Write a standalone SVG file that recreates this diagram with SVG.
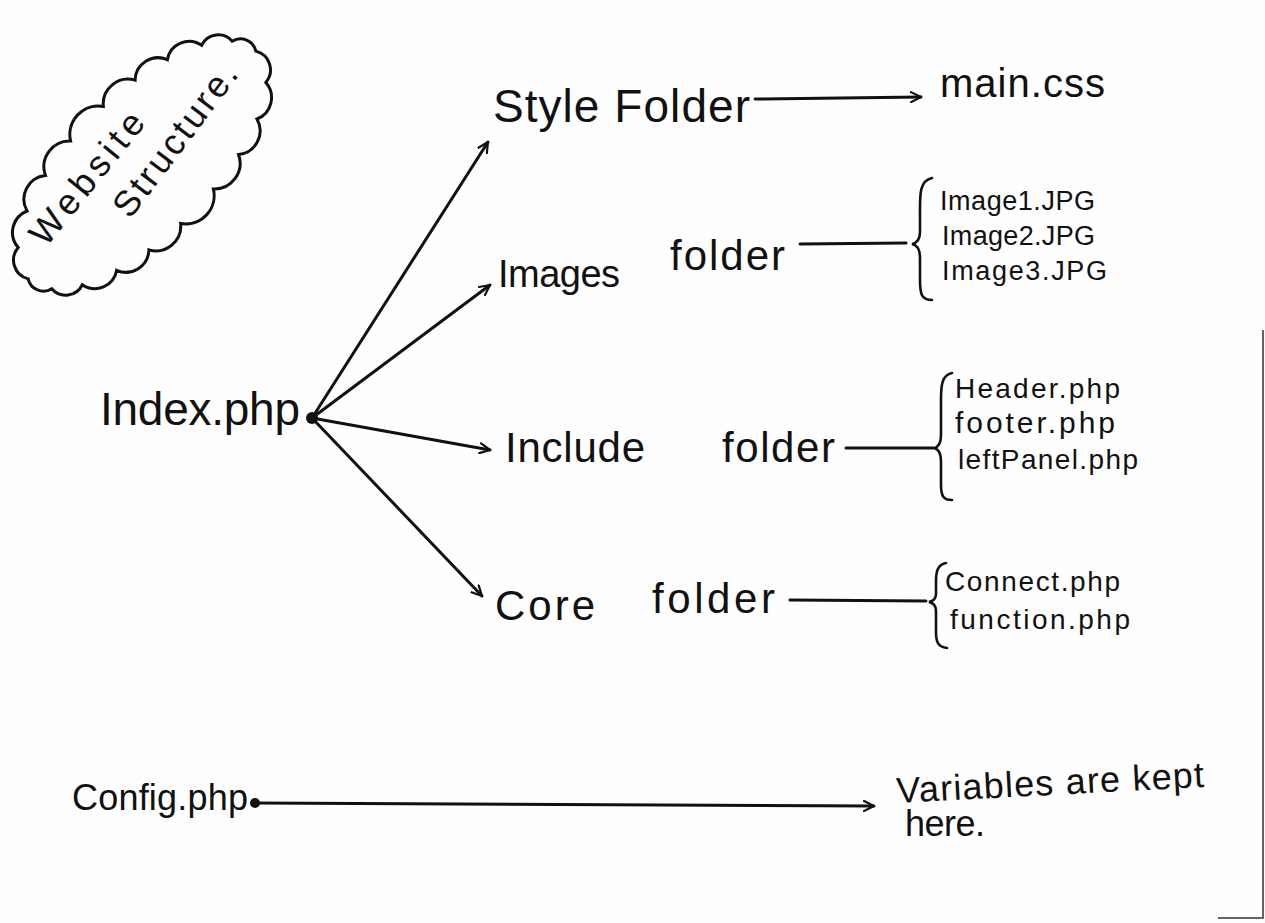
<svg xmlns="http://www.w3.org/2000/svg" width="1265" height="923" viewBox="0 0 1265 923">
<defs>
<style>
.t{font-family:"Liberation Sans","DejaVu Sans",sans-serif;fill:#111;}
.ln{stroke:#111;stroke-width:3;fill:none;stroke-linecap:round;stroke-linejoin:round;}
.br{stroke:#111;stroke-width:2.6;fill:none;stroke-linecap:round;}
</style>
<marker id="ah" viewBox="0 0 12 12" refX="11" refY="6" markerWidth="12" markerHeight="12" markerUnits="userSpaceOnUse" orient="auto">
<path d="M1,1 L11,6 L1,11" fill="none" stroke="#111" stroke-width="2.2" stroke-linecap="round" stroke-linejoin="round"/>
</marker>
</defs>
<rect width="1265" height="923" fill="#fefefe"/>
<g id="paper-edge">
<path d="M1263,330 L1263,918 L1218,918" stroke="#333" stroke-width="1.5" fill="none"/>
</g>

<g id="title-cloud">
<path transform="translate(142,165) rotate(-45) scale(0.92)" vector-effect="non-scaling-stroke" fill="none" stroke="#111" stroke-width="3"
d="M175,0 A21,21 0 0 1 158.6,31.7 A25,25 0 0 1 123.7,53 A26,26 0 0 1 82.2,66.2 A28,28 0 0 1 36.4,73.4 A31,31 0 0 1 -15.3,74.7 A27,27 0 0 1 -59.9,70.5 A25,25 0 0 1 -100.4,61.4 A24,24 0 0 1 -137.9,46.2 A20,20 0 0 1 -164.4,25.7 A17,17 0 0 1 -175,0 A21,21 0 0 1 -158.6,-31.7 A25,25 0 0 1 -123.7,-53 A26,26 0 0 1 -82.2,-66.2 A28,28 0 0 1 -36.4,-73.4 A31,31 0 0 1 15.3,-74.7 A27,27 0 0 1 59.9,-70.5 A25,25 0 0 1 100.4,-61.4 A24,24 0 0 1 137.9,-46.2 A20,20 0 0 1 164.4,-25.7 A17,17 0 0 1 175,0 Z"/>
<text class="t" font-size="36" transform="translate(46,248) rotate(-51)" textLength="160" lengthAdjust="spacing">Website</text>
<text class="t" font-size="36" transform="translate(130,220) rotate(-53)" textLength="182" lengthAdjust="spacing">Structure.</text>
</g>

<g id="index">
<text class="t" x="100" y="425" font-size="46" textLength="200" lengthAdjust="spacing">Index.php</text>
<circle cx="312" cy="418" r="6" fill="#111"/>
</g>

<g id="style-folder">
<text class="t" x="493" y="122" font-size="46" textLength="257" lengthAdjust="spacing">Style Folder</text>
</g>
<g id="main-css">
<text class="t" x="940" y="97" font-size="40" textLength="165" lengthAdjust="spacing">main.css</text>
</g>

<g id="images-folder">
<text class="t" x="498" y="287" font-size="38" textLength="122" lengthAdjust="spacing">Images</text>
<text class="t" x="670" y="270" font-size="42" textLength="115" lengthAdjust="spacing">folder</text>
</g>
<g id="image-files">
<path class="br" d="M932,178 C919,181 920,195 920,215 L920,232 C920,240 917,243 912,244 C917,245 920,250 920,258 L920,280 C920,295 922,300 932,300"/>
<text class="t" x="940" y="210" font-size="27" textLength="155" lengthAdjust="spacing">Image1.JPG</text>
<text class="t" x="942" y="245" font-size="27" textLength="153" lengthAdjust="spacing">Image2.JPG</text>
<text class="t" x="942" y="280" font-size="27" textLength="165" lengthAdjust="spacing">Image3.JPG</text>
</g>

<g id="include-folder">
<text class="t" x="505" y="462" font-size="42" textLength="140" lengthAdjust="spacing">Include</text>
<text class="t" x="722" y="462" font-size="42" textLength="113" lengthAdjust="spacing">folder</text>
</g>
<g id="include-files">
<path class="br" d="M952,373 C942,375 941,385 941,400 L941,435 C941,443 939,447 934,448 C939,449 941,455 941,462 L941,485 C941,497 944,500 952,500"/>
<text class="t" x="955" y="398" font-size="28" textLength="165" lengthAdjust="spacing">Header.php</text>
<text class="t" x="955" y="433" font-size="30" textLength="160" lengthAdjust="spacing">footer.php</text>
<text class="t" x="958" y="469" font-size="28" textLength="180" lengthAdjust="spacing">leftPanel.php</text>
</g>

<g id="core-folder">
<text class="t" x="495" y="620" font-size="42" textLength="100" lengthAdjust="spacing">Core</text>
<text class="t" x="652" y="613" font-size="42" textLength="123" lengthAdjust="spacing">folder</text>
</g>
<g id="core-files">
<path class="br" d="M946,563 C937,565 936,572 936,582 L936,594 C936,598 934,601 929,602 C934,603 936,606 936,611 L936,632 C936,642 938,647 947,648"/>
<text class="t" x="945" y="591" font-size="28" textLength="175" lengthAdjust="spacing">Connect.php</text>
<text class="t" x="950" y="629" font-size="28" textLength="180" lengthAdjust="spacing">function.php</text>
</g>

<g id="config">
<text class="t" x="72" y="810" font-size="36" textLength="176" lengthAdjust="spacing">Config.php</text>
<circle cx="255" cy="803" r="5" fill="#111"/>
</g>
<g id="variables-note">
<text class="t" font-size="36" transform="translate(897,803) rotate(-3)" textLength="308" lengthAdjust="spacing">Variables are kept</text>
<text class="t" x="905" y="836" font-size="36" textLength="80" lengthAdjust="spacing">here.</text>
</g>

<g id="connectors">
<line class="ln" x1="312" y1="418" x2="488" y2="142" marker-end="url(#ah)"/>
<line class="ln" x1="312" y1="418" x2="490" y2="285" marker-end="url(#ah)"/>
<line class="ln" x1="312" y1="418" x2="490" y2="450" marker-end="url(#ah)"/>
<line class="ln" x1="312" y1="418" x2="482" y2="596" marker-end="url(#ah)"/>
<line class="ln" x1="755" y1="99" x2="921" y2="97" marker-end="url(#ah)"/>
<line class="ln" x1="800" y1="244" x2="906" y2="243"/>
<line class="ln" x1="846" y1="448" x2="933" y2="448"/>
<line class="ln" x1="790" y1="600" x2="926" y2="601"/>
<line class="ln" x1="255" y1="803" x2="874" y2="806" marker-end="url(#ah)"/>
</g>
</svg>
